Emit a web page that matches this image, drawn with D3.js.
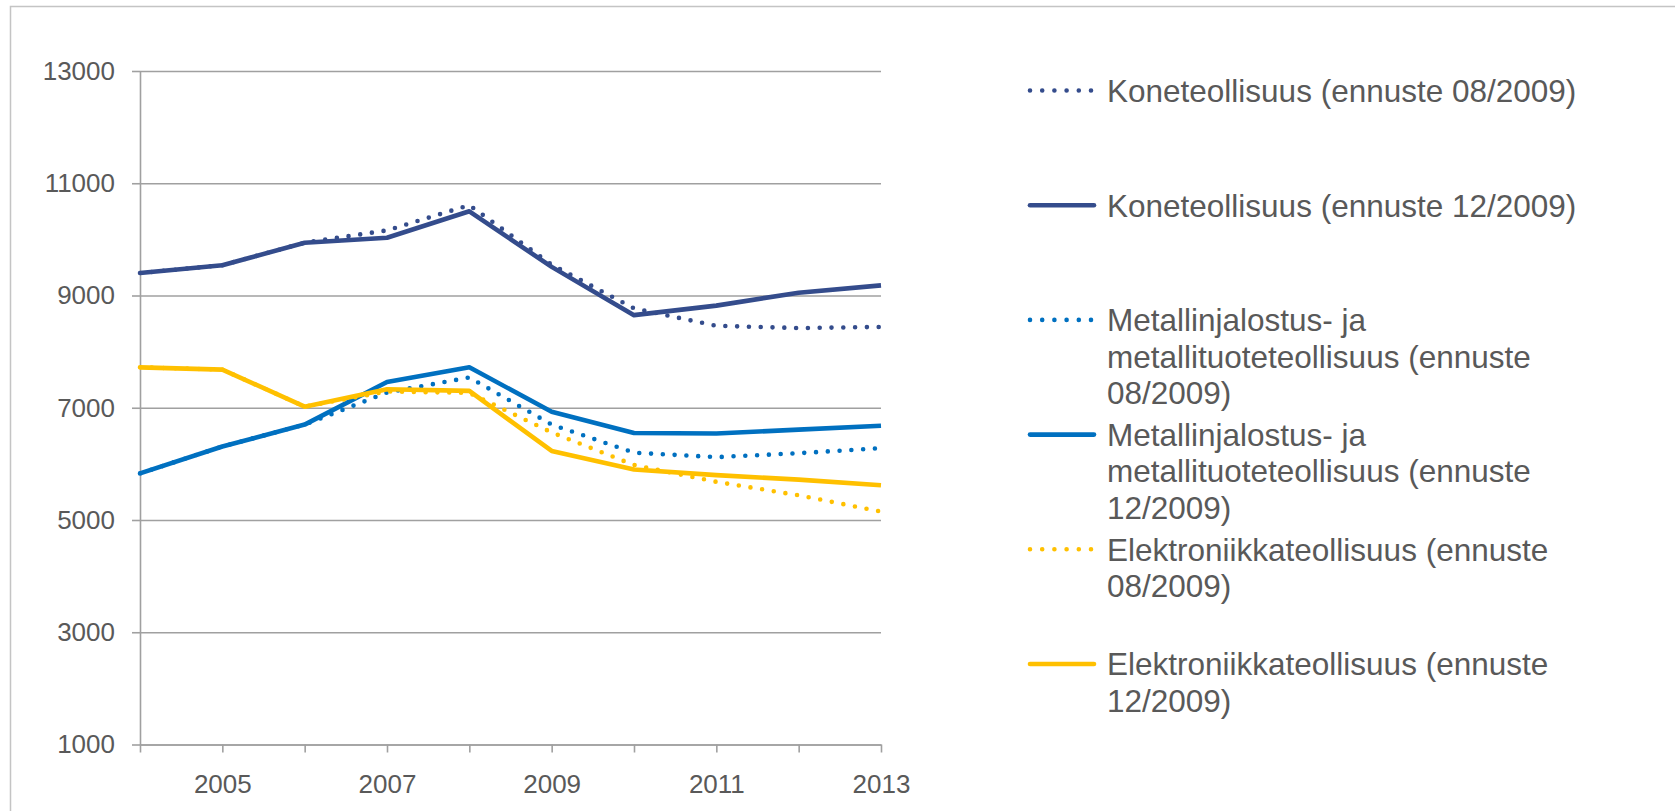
<!DOCTYPE html>
<html>
<head>
<meta charset="utf-8">
<script src="https://cdn.jsdelivr.net/npm/d3@7"></script>
<style>
  html, body { margin: 0; padding: 0; background: #fff; }
  svg { display: block; font-family: "Liberation Sans", Arial, sans-serif; }
</style>
</head>
<body>
<svg id="chart" width="1675" height="811"></svg>
<script>
// ---- data ----
const years = [2004, 2005, 2006, 2007, 2008, 2009, 2010, 2011, 2012, 2013];
const yTicks = [1000, 3000, 5000, 7000, 9000, 11000, 13000];
const xLabelYears = [2005, 2007, 2009, 2011, 2013];

const kone08  = [9400, 9540, 9940, 10160, 10610, 9550, 8770, 8460, 8420, 8440];
const kone12  = [9400, 9540, 9940, 10030, 10500, 9510, 8650, 8820, 9050, 9180];
const metal08 = [5830, 6310, 6700, 7270, 7540, 6700, 6200, 6120, 6190, 6280];
const metal12 = [5830, 6310, 6700, 7460, 7720, 6930, 6550, 6540, 6610, 6680];
const elek08  = [7720, 7680, 7020, 7290, 7265, 6560, 5980, 5680, 5440, 5150];
const elek12  = [7720, 7680, 7020, 7330, 7300, 6230, 5900, 5800, 5720, 5620];

const seriesNames = [
  "Koneteollisuus (ennuste 08/2009)",
  "Koneteollisuus (ennuste 12/2009)",
  "Metallinjalostus- ja metallituoteteollisuus (ennuste 08/2009)",
  "Metallinjalostus- ja metallituoteteollisuus (ennuste 12/2009)",
  "Elektroniikkateollisuus (ennuste 08/2009)",
  "Elektroniikkateollisuus (ennuste 12/2009)"
];
const seriesValues = [kone08, kone12, metal08, metal12, elek08, elek12];
const seriesColors = ["#344C8C", "#344C8C", "#0070C0", "#0070C0", "#FFC000", "#FFC000"];
const seriesDotted = [true, false, true, false, true, false];

(function () {
// ---- layout ----
const svg = d3.select("#chart");
const pLeft = 140, pRight = 881, pTop = 71, pBottom = 744.5;
const textColor = "#595959";
const gridColor = "#A0A0A0";

// outer border
svg.append("rect")
  .attr("x", 10.5).attr("y", 6.5)
  .attr("width", 1700).attr("height", 900)
  .attr("fill", "none").attr("stroke", "#C4C4C4").attr("stroke-width", 1.5);

const x = d3.scalePoint().domain(years).range([pLeft, pRight]);
const y = d3.scaleLinear().domain([1000, 13000]).range([pBottom, pTop]);

// gridlines
const grid = svg.append("g").attr("transform", `translate(${pLeft},0)`)
  .call(d3.axisLeft(y).tickValues(yTicks).tickSize(-(pRight - pLeft)).tickFormat(""));
grid.select(".domain").remove();
grid.selectAll(".tick line").attr("stroke", gridColor).attr("stroke-width", 1.6);

// y axis (ticks + labels)
const yAxis = svg.append("g").attr("transform", `translate(${pLeft},0)`)
  .call(d3.axisLeft(y).tickValues(yTicks).tickSize(8).tickSizeOuter(0).tickPadding(17).tickFormat(d3.format("d")));
yAxis.select(".domain").attr("stroke", gridColor).attr("stroke-width", 1.6);
yAxis.selectAll(".tick line").attr("stroke", gridColor).attr("stroke-width", 1.6);
yAxis.selectAll(".tick text").attr("fill", textColor).style("font-size", "26px")
  .style("font-family", "'Liberation Sans', Arial, sans-serif");

// x axis
const xAxis = svg.append("g").attr("transform", `translate(0,${pBottom})`)
  .call(d3.axisBottom(x).tickSize(8).tickSizeOuter(0).tickPadding(22)
    .tickFormat(d => xLabelYears.includes(d) ? String(d) : ""));
xAxis.select(".domain").attr("stroke", gridColor).attr("stroke-width", 1.6);
xAxis.selectAll(".tick line").attr("stroke", gridColor).attr("stroke-width", 1.6);
xAxis.selectAll(".tick text").attr("fill", textColor).style("font-size", "26px")
  .style("font-family", "'Liberation Sans', Arial, sans-serif");

// lines
const line = d3.line().x((d, i) => x(years[i])).y(d => y(d));
seriesValues.forEach((vals, i) => {
  const p = svg.append("path")
    .datum(vals)
    .attr("d", line)
    .attr("fill", "none")
    .attr("stroke", seriesColors[i])
    .attr("stroke-width", 4.6)
    .attr("stroke-linejoin", "round")
    .attr("stroke-linecap", seriesDotted[i] ? "round" : "butt");
  if (seriesDotted[i]) p.attr("stroke-dasharray", "0 11.8");
});

// legend
const legX = 1030, legTextX = 1107, legY0 = 90.5, legStep = 114.7, lineH = 36.3, maxW = 500;
const leg = svg.append("g");
seriesNames.forEach((name, i) => {
  const cy = legY0 + i * legStep;
  if (seriesDotted[i]) {
    leg.append("line").attr("x1", legX).attr("x2", legX + 62).attr("y1", cy).attr("y2", cy)
      .attr("stroke", seriesColors[i]).attr("stroke-width", 4.6)
      .attr("stroke-linecap", "round").attr("stroke-dasharray", "0 12.2");
  } else {
    leg.append("line").attr("x1", legX).attr("x2", legX + 64).attr("y1", cy).attr("y2", cy)
      .attr("stroke", seriesColors[i]).attr("stroke-width", 4.6).attr("stroke-linecap", "round");
  }
  const t = leg.append("text").attr("x", legTextX).attr("y", cy + 11.3)
    .attr("fill", textColor).style("font-size", "31.5px");
  const words = name.split(" ");
  let tspan = t.append("tspan").attr("x", legTextX).attr("dy", 0);
  let cur = [];
  words.forEach(w => {
    cur.push(w);
    tspan.text(cur.join(" "));
    if (tspan.node().getComputedTextLength() > maxW && cur.length > 1) {
      cur.pop();
      tspan.text(cur.join(" "));
      cur = [w];
      tspan = t.append("tspan").attr("x", legTextX).attr("dy", lineH).text(w);
    }
  });
});
})();
</script>
</body>
</html>
